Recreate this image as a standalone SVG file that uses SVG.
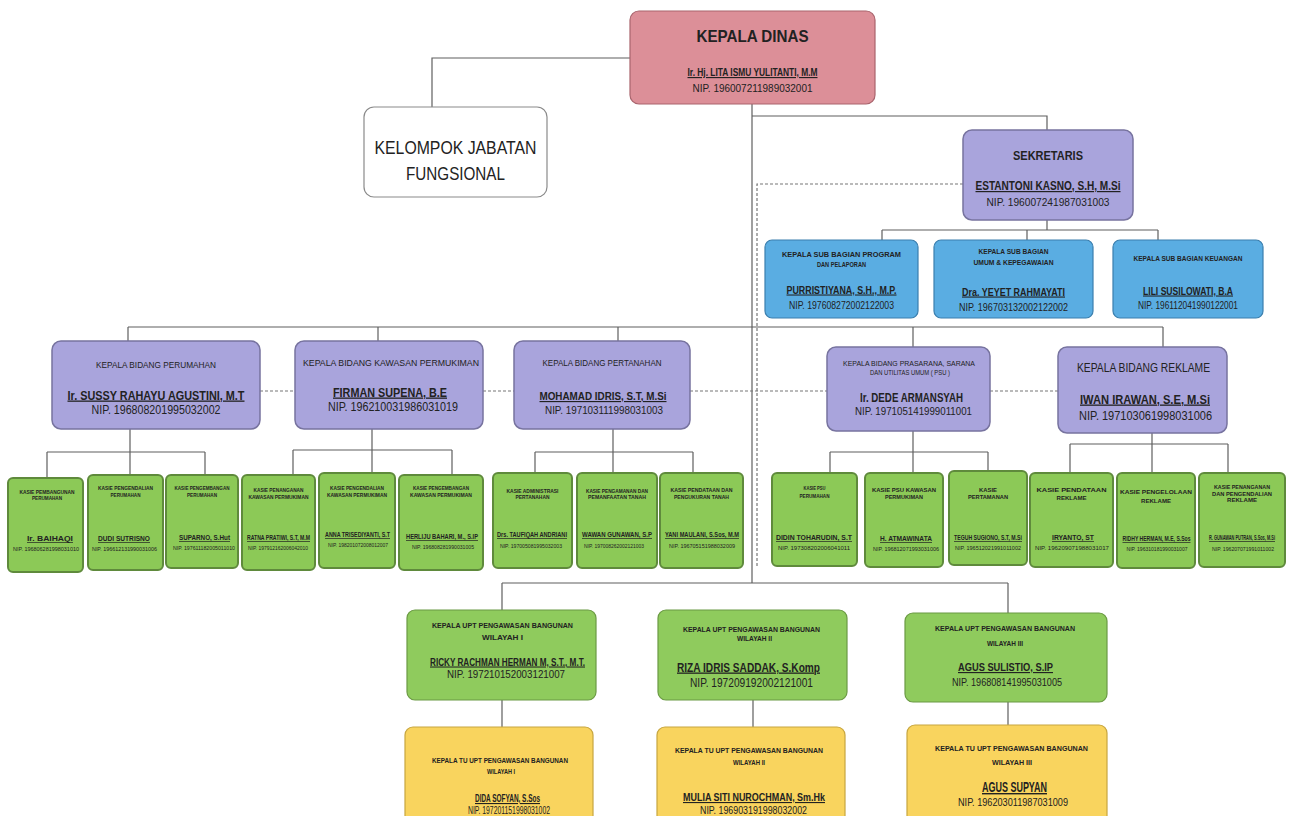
<svg xmlns="http://www.w3.org/2000/svg" width="1291" height="816" viewBox="0 0 1291 816">
<style>
text{font-family:"Liberation Sans Narrow","Liberation Sans",Arial,sans-serif;fill:#222;text-anchor:middle}
.b{font-weight:bold}
.u{font-weight:bold;text-decoration:underline}
.ln{fill:none;stroke:#5f5f5f;stroke-width:1.2}
.dash{fill:none;stroke:#777;stroke-width:1.2;stroke-dasharray:3 2}
.kd{fill:#dc8f98;stroke:#a9646d;stroke-width:1.2}
.wh{fill:#fff;stroke:#8a8a8a;stroke-width:1.2}
.pu{fill:#a9a4dc;stroke:#77739f;stroke-width:1.5}
.bl{fill:#5aade2;stroke:#3b7fae;stroke-width:1.2}
.gr{fill:#8fcb5d;stroke:#6b9a44;stroke-width:1.2}
.gs{fill:#8cc957;stroke:#5f8a3c;stroke-width:2}
.ye{fill:#f9d45e;stroke:#c7a640;stroke-width:1.2}
.s5{font-size:5.5px;font-weight:bold}
.s8{font-size:7px;font-weight:bold;text-decoration:underline}
.n5{font-size:5px}
</style>
<defs></defs>
<g id="connectors">
<path class="ln" d="M630 58H432V107"/>
<path class="ln" d="M752 104V583"/>
<path class="ln" d="M752 116H1047V130"/>
<path class="ln" d="M1047 220V230M882 230H1158M882 230V240M1027 230V240M1158 230V240"/>
<path class="ln" d="M128 327H1163M128 327V341M378 327V341M618 327V341M913 327V347M1163 327V347"/>
<path class="ln" d="M130 429V452M47 452H205M47 452V478M130 452V475M205 452V475"/>
<path class="ln" d="M372 429V450M293 450H452M293 450V475M372 450V473M452 450V475"/>
<path class="ln" d="M613 429V452M535 452H693M535 452V473M613 452V473M693 452V473"/>
<path class="ln" d="M913 431V452M830 452H988M830 452V473M913 452V473M988 452V471"/>
<path class="ln" d="M1152 433V444M1070 444H1228M1070 444V473M1152 444V473M1228 444V473"/>
<path class="ln" d="M502 583H1008M502 583V610M1008 583V613"/>
<path class="ln" d="M502 700V727M753 700V727M1008 702V725"/>
<path class="dash" d="M963 184H757V567"/>
<path class="dash" d="M260 391H295M483 391H514M690 391H827M990 391H1058"/>
</g>
<g id="kepala-dinas">
<rect class="kd" x="630" y="11" width="245" height="93" rx="9"/>
<text x="752.5" y="42" class="b" font-size="17" textLength="112" lengthAdjust="spacingAndGlyphs">KEPALA DINAS</text>
<text x="752.5" y="76" class="u" font-size="11.5" textLength="130" lengthAdjust="spacingAndGlyphs">Ir. Hj. LITA ISMU YULITANTI, M.M</text>
<text x="752.5" y="92" font-size="11" textLength="120" lengthAdjust="spacingAndGlyphs">NIP. 196007211989032001</text>
</g>
<g id="kelompok-jabatan-fungsional">
<rect class="wh" x="364" y="107" width="183" height="90" rx="10"/>
<text x="455.5" y="153.5" font-size="18" textLength="162" lengthAdjust="spacingAndGlyphs">KELOMPOK JABATAN</text>
<text x="455.5" y="179.5" font-size="18" textLength="99" lengthAdjust="spacingAndGlyphs">FUNGSIONAL</text>
</g>
<g id="sekretaris">
<rect class="pu" x="963" y="130" width="170" height="90" rx="9"/>
<text x="1048" y="160" class="b" font-size="13" textLength="70" lengthAdjust="spacingAndGlyphs">SEKRETARIS</text>
<text x="1048" y="190" class="u" font-size="12" textLength="145" lengthAdjust="spacingAndGlyphs">ESTANTONI KASNO, S.H, M.Si</text>
<text x="1048" y="206" font-size="11.5" textLength="123" lengthAdjust="spacingAndGlyphs">NIP. 196007241987031003</text>
</g>
<g id="subbag-program">
<rect class="bl" x="765" y="240" width="153" height="78" rx="7"/>
<text x="841.5" y="256.5" class="b" font-size="7" textLength="119" lengthAdjust="spacingAndGlyphs">KEPALA SUB BAGIAN PROGRAM</text>
<text x="841.5" y="266.5" class="b" font-size="7" textLength="49" lengthAdjust="spacingAndGlyphs">DAN PELAPORAN</text>
<text x="841.5" y="293.5" class="u" font-size="10.5" textLength="110" lengthAdjust="spacingAndGlyphs">PURRISTIYANA, S.H., M.P.</text>
<text x="841.5" y="308.5" font-size="10" textLength="105" lengthAdjust="spacingAndGlyphs">NIP. 197608272002122003</text>
</g>
<g id="subbag-umum">
<rect class="bl" x="934" y="240" width="159" height="78" rx="7"/>
<text x="1013.5" y="253.5" class="b" font-size="6.5" textLength="70" lengthAdjust="spacingAndGlyphs">KEPALA SUB BAGIAN</text>
<text x="1013.5" y="264.5" class="b" font-size="6.5" textLength="80" lengthAdjust="spacingAndGlyphs">UMUM &amp; KEPEGAWAIAN</text>
<text x="1013.5" y="295.5" class="u" font-size="11" textLength="103" lengthAdjust="spacingAndGlyphs">Dra. YEYET RAHMAYATI</text>
<text x="1013.5" y="310.5" font-size="10.5" textLength="109" lengthAdjust="spacingAndGlyphs">NIP. 196703132002122002</text>
</g>
<g id="subbag-keuangan">
<rect class="bl" x="1113" y="240" width="150" height="78" rx="7"/>
<text x="1188" y="260.5" class="b" font-size="6.5" textLength="109" lengthAdjust="spacingAndGlyphs">KEPALA SUB BAGIAN KEUANGAN</text>
<text x="1188" y="294.5" class="u" font-size="10.5" textLength="90" lengthAdjust="spacingAndGlyphs">LILI SUSILOWATI, B.A</text>
<text x="1188" y="308.5" font-size="10" textLength="100" lengthAdjust="spacingAndGlyphs">NIP. 196112041990122001</text>
</g>
<g id="bidang-perumahan">
<rect class="pu" x="52" y="341" width="208" height="88" rx="9"/>
<text x="156" y="368" font-size="8.5" textLength="120" lengthAdjust="spacingAndGlyphs">KEPALA BIDANG PERUMAHAN</text>
<text x="156" y="399.5" class="u" font-size="13" textLength="177" lengthAdjust="spacingAndGlyphs">Ir. SUSSY RAHAYU AGUSTINI, M.T</text>
<text x="156" y="414" font-size="12" textLength="129" lengthAdjust="spacingAndGlyphs">NIP. 196808201995032002</text>
</g>
<g id="bidang-kawasan">
<rect class="pu" x="295" y="341" width="188" height="88" rx="9"/>
<text x="391" y="366" font-size="8.5" textLength="176" lengthAdjust="spacingAndGlyphs">KEPALA BIDANG KAWASAN PERMUKIMAN</text>
<text x="390" y="396.5" class="u" font-size="13" textLength="114" lengthAdjust="spacingAndGlyphs">FIRMAN SUPENA, B.E</text>
<text x="393" y="411" font-size="12" textLength="130" lengthAdjust="spacingAndGlyphs">NIP. 196210031986031019</text>
</g>
<g id="bidang-pertanahan">
<rect class="pu" x="514" y="341" width="176" height="88" rx="9"/>
<text x="602" y="366" font-size="8.5" textLength="119" lengthAdjust="spacingAndGlyphs">KEPALA BIDANG PERTANAHAN</text>
<text x="603" y="400" class="u" font-size="11.5" textLength="127" lengthAdjust="spacingAndGlyphs">MOHAMAD IDRIS, S.T, M.Si</text>
<text x="604" y="413.5" font-size="10.5" textLength="118" lengthAdjust="spacingAndGlyphs">NIP. 197103111998031003</text>
</g>
<g id="bidang-psu">
<rect class="pu" x="827" y="347" width="163" height="84" rx="9"/>
<text x="909" y="365.5" font-size="7" textLength="132" lengthAdjust="spacingAndGlyphs">KEPALA BIDANG PRASARANA, SARANA</text>
<text x="910" y="374.5" font-size="7" textLength="80" lengthAdjust="spacingAndGlyphs">DAN UTILITAS UMUM ( PSU )</text>
<text x="911.5" y="402" class="b" font-size="12" textLength="103" lengthAdjust="spacingAndGlyphs">Ir. DEDE ARMANSYAH</text>
<text x="913.5" y="415" font-size="10.5" textLength="117" lengthAdjust="spacingAndGlyphs">NIP. 197105141999011001</text>
</g>
<g id="bidang-reklame">
<rect class="pu" x="1058" y="347" width="169" height="86" rx="9"/>
<text x="1143.5" y="372" font-size="12" textLength="133" lengthAdjust="spacingAndGlyphs">KEPALA BIDANG REKLAME</text>
<text x="1145" y="403.5" class="u" font-size="13" textLength="130" lengthAdjust="spacingAndGlyphs">IWAN IRAWAN, S.E, M.Si</text>
<text x="1145.5" y="420" font-size="12" textLength="133" lengthAdjust="spacingAndGlyphs">NIP. 197103061998031006</text>
</g>
<g id="seksi-1">
<rect class="gs" x="8" y="478" width="75" height="94" rx="5"/>
<text x="47" y="494" class="s5" textLength="55" lengthAdjust="spacingAndGlyphs">KASIE PEMBANGUNAN</text>
<text x="47" y="500" class="s5" textLength="30" lengthAdjust="spacingAndGlyphs">PERUMAHAN</text>
<text x="50" y="541" class="s8" textLength="46" lengthAdjust="spacingAndGlyphs">Ir. BAIHAQI</text>
<text x="46" y="551" class="n5" textLength="66" lengthAdjust="spacingAndGlyphs">NIP. 196806281998031010</text>
</g>
<g id="seksi-2">
<rect class="gs" x="88" y="475" width="75" height="95" rx="5"/>
<text x="125.5" y="490" class="s5" textLength="55" lengthAdjust="spacingAndGlyphs">KASIE PENGENDALIAN</text>
<text x="125.5" y="497" class="s5" textLength="30" lengthAdjust="spacingAndGlyphs">PERUMAHAN</text>
<text x="124" y="541" class="s8" textLength="52" lengthAdjust="spacingAndGlyphs">DUDI SUTRISNO</text>
<text x="124.5" y="551" class="n5" textLength="65" lengthAdjust="spacingAndGlyphs">NIP. 196612131990031006</text>
</g>
<g id="seksi-3">
<rect class="gs" x="166" y="475" width="72" height="93" rx="5"/>
<text x="202" y="490" class="s5" textLength="55" lengthAdjust="spacingAndGlyphs">KASIE PENGEMBANGAN</text>
<text x="202" y="497" class="s5" textLength="30" lengthAdjust="spacingAndGlyphs">PERUMAHAN</text>
<text x="204.5" y="540" class="s8" textLength="51" lengthAdjust="spacingAndGlyphs">SUPARNO, S.Hut</text>
<text x="204" y="550" class="n5" textLength="62" lengthAdjust="spacingAndGlyphs">NIP. 197611182005011010</text>
</g>
<g id="seksi-4">
<rect class="gs" x="242" y="475" width="73" height="95" rx="5"/>
<text x="278.5" y="492" class="s5" textLength="50" lengthAdjust="spacingAndGlyphs">KASIE PENANGANAN</text>
<text x="278.5" y="499" class="s5" textLength="60" lengthAdjust="spacingAndGlyphs">KAWASAN PERMUKIMAN</text>
<text x="278.5" y="540" class="s8" textLength="63" lengthAdjust="spacingAndGlyphs">RATNA PRATIWI, S.T, M.M</text>
<text x="278" y="550" class="n5" textLength="60" lengthAdjust="spacingAndGlyphs">NIP. 197912162006042010</text>
</g>
<g id="seksi-5">
<rect class="gs" x="319" y="473" width="76" height="95" rx="5"/>
<text x="357" y="490" class="s5" textLength="54" lengthAdjust="spacingAndGlyphs">KASIE PENGENDALIAN</text>
<text x="357" y="497" class="s5" textLength="60" lengthAdjust="spacingAndGlyphs">KAWASAN PERMUKIMAN</text>
<text x="357.5" y="537" class="s8" textLength="65" lengthAdjust="spacingAndGlyphs">ANNA TRISEDIYANTI, S.T</text>
<text x="358" y="547" class="n5" textLength="60" lengthAdjust="spacingAndGlyphs">NIP. 198201072008012007</text>
</g>
<g id="seksi-6">
<rect class="gs" x="399" y="475" width="84" height="95" rx="5"/>
<text x="441" y="490" class="s5" textLength="56" lengthAdjust="spacingAndGlyphs">KASIE PENGEMBANGAN</text>
<text x="441" y="497" class="s5" textLength="62" lengthAdjust="spacingAndGlyphs">KAWASAN PERMUKIMAN</text>
<text x="442" y="539" class="s8" textLength="72" lengthAdjust="spacingAndGlyphs">HERLIJU BAHARI, M., S.IP</text>
<text x="443" y="549" class="n5" textLength="62" lengthAdjust="spacingAndGlyphs">NIP. 196808281990031005</text>
</g>
<g id="seksi-7">
<rect class="gs" x="493" y="473" width="79" height="95" rx="5"/>
<text x="532.5" y="493" class="s5" textLength="52" lengthAdjust="spacingAndGlyphs">KASIE ADMINISTRASI</text>
<text x="532.5" y="499" class="s5" textLength="34" lengthAdjust="spacingAndGlyphs">PERTANAHAN</text>
<text x="532" y="537" class="s8" textLength="70" lengthAdjust="spacingAndGlyphs">Drs. TAUFIQAH ANDRIANI</text>
<text x="531" y="548" class="n5" textLength="62" lengthAdjust="spacingAndGlyphs">NIP. 197005081995032003</text>
</g>
<g id="seksi-8">
<rect class="gs" x="577" y="473" width="80" height="95" rx="5"/>
<text x="617" y="493" class="s5" textLength="62" lengthAdjust="spacingAndGlyphs">KASIE PENGAMANAN DAN</text>
<text x="617" y="499" class="s5" textLength="58" lengthAdjust="spacingAndGlyphs">PEMANFAATAN TANAH</text>
<text x="617" y="537" class="s8" textLength="70" lengthAdjust="spacingAndGlyphs">WAWAN GUNAWAN, S.P</text>
<text x="614" y="548" class="n5" textLength="60" lengthAdjust="spacingAndGlyphs">NIP. 197008262002121003</text>
</g>
<g id="seksi-9">
<rect class="gs" x="660" y="473" width="83" height="95" rx="5"/>
<text x="701.5" y="492" class="s5" textLength="62" lengthAdjust="spacingAndGlyphs">KASIE PENDATAAN DAN</text>
<text x="701.5" y="499" class="s5" textLength="55" lengthAdjust="spacingAndGlyphs">PENGUKURAN TANAH</text>
<text x="702" y="537" class="s8" textLength="74" lengthAdjust="spacingAndGlyphs">YANI MAULANI, S.Sos, M.M</text>
<text x="702" y="548" class="n5" textLength="66" lengthAdjust="spacingAndGlyphs">NIP. 196705151988032009</text>
</g>
<g id="seksi-10">
<rect class="gs" x="772" y="473" width="85" height="93" rx="5"/>
<text x="814.5" y="490" class="s5" textLength="22" lengthAdjust="spacingAndGlyphs">KASIE PSU</text>
<text x="814.5" y="498" class="s5" textLength="30" lengthAdjust="spacingAndGlyphs">PERUMAHAN</text>
<text x="814" y="540" class="s8" textLength="76" lengthAdjust="spacingAndGlyphs">DIDIN TOHARUDIN, S.T</text>
<text x="814" y="550" class="n5" textLength="72" lengthAdjust="spacingAndGlyphs">NIP. 197308202006041011</text>
</g>
<g id="seksi-11">
<rect class="gs" x="865" y="473" width="78" height="94" rx="5"/>
<text x="904" y="492" class="s5" textLength="64" lengthAdjust="spacingAndGlyphs">KASIE PSU KAWASAN</text>
<text x="904" y="499" class="s5" textLength="38" lengthAdjust="spacingAndGlyphs">PERMUKIMAN</text>
<text x="906" y="541" class="s8" textLength="52" lengthAdjust="spacingAndGlyphs">H. ATMAWINATA</text>
<text x="906" y="551" class="n5" textLength="66" lengthAdjust="spacingAndGlyphs">NIP. 196812071993031006</text>
</g>
<g id="seksi-12">
<rect class="gs" x="949" y="471" width="78" height="94" rx="5"/>
<text x="988" y="492" class="s5" textLength="18" lengthAdjust="spacingAndGlyphs">KASIE</text>
<text x="988" y="499" class="s5" textLength="40" lengthAdjust="spacingAndGlyphs">PERTAMANAN</text>
<text x="988" y="540" class="s8" textLength="68" lengthAdjust="spacingAndGlyphs">TEGUH SUGIONO, S.T, M.Si</text>
<text x="988" y="550" class="n5" textLength="66" lengthAdjust="spacingAndGlyphs">NIP. 196512021991011002</text>
</g>
<g id="seksi-13">
<rect class="gs" x="1030" y="473" width="83" height="94" rx="5"/>
<text x="1071.5" y="492" class="s5" font-size="7" textLength="70" lengthAdjust="spacingAndGlyphs">KASIE PENDATAAN</text>
<text x="1071.5" y="500" class="s5" font-size="7" textLength="30" lengthAdjust="spacingAndGlyphs">REKLAME</text>
<text x="1073" y="540" class="s8" textLength="42" lengthAdjust="spacingAndGlyphs">IRYANTO, ST</text>
<text x="1072" y="550" class="n5" textLength="74" lengthAdjust="spacingAndGlyphs">NIP. 196209071988031017</text>
</g>
<g id="seksi-14">
<rect class="gs" x="1117" y="473" width="78" height="95" rx="5"/>
<text x="1156" y="494" class="s5" font-size="7" textLength="72" lengthAdjust="spacingAndGlyphs">KASIE PENGELOLAAN</text>
<text x="1156" y="503" class="s5" font-size="7" textLength="30" lengthAdjust="spacingAndGlyphs">REKLAME</text>
<text x="1156.5" y="541" class="s8" font-size="6.5" textLength="68" lengthAdjust="spacingAndGlyphs">RIDHY HERMAN, M.E, S.Sos</text>
<text x="1157" y="551" class="n5" textLength="61" lengthAdjust="spacingAndGlyphs">NIP. 196310181990031007</text>
</g>
<g id="seksi-15">
<rect class="gs" x="1199" y="473" width="86" height="94" rx="5"/>
<text x="1242" y="489" class="s5" textLength="56" lengthAdjust="spacingAndGlyphs">KASIE PENANGANAN</text>
<text x="1242" y="495.5" class="s5" textLength="60" lengthAdjust="spacingAndGlyphs">DAN PENGENDALIAN</text>
<text x="1242" y="502" class="s5" textLength="30" lengthAdjust="spacingAndGlyphs">REKLAME</text>
<text x="1242" y="540" class="s8" font-size="4.4" textLength="66" lengthAdjust="spacingAndGlyphs">R. GUNAWAN PUTRAN, S.Sos, M.Si</text>
<text x="1243" y="551" class="n5" textLength="62" lengthAdjust="spacingAndGlyphs">NIP. 196207071991011002</text>
</g>
<g id="upt-1">
<rect class="gr" x="407" y="610" width="189" height="90" rx="8"/>
<text x="502.5" y="627.5" class="b" font-size="7" textLength="141" lengthAdjust="spacingAndGlyphs">KEPALA UPT PENGAWASAN BANGUNAN</text>
<text x="502.5" y="639.5" class="b" font-size="7" textLength="41" lengthAdjust="spacingAndGlyphs">WILAYAH I</text>
<text x="507.5" y="665.5" class="u" font-size="10.5" textLength="155" lengthAdjust="spacingAndGlyphs">RICKY RACHMAN HERMAN M, S.T., M.T.</text>
<text x="506" y="677.5" font-size="10.5" textLength="118" lengthAdjust="spacingAndGlyphs">NIP. 197210152003121007</text>
</g>
<g id="upt-2">
<rect class="gr" x="658" y="610" width="189" height="90" rx="8"/>
<text x="751.5" y="632" class="b" font-size="6.5" textLength="137" lengthAdjust="spacingAndGlyphs">KEPALA UPT PENGAWASAN BANGUNAN</text>
<text x="754.5" y="640.5" class="b" font-size="6.5" textLength="35" lengthAdjust="spacingAndGlyphs">WILAYAH II</text>
<text x="748.5" y="671.5" class="u" font-size="13" textLength="143" lengthAdjust="spacingAndGlyphs">RIZA IDRIS SADDAK, S.Komp</text>
<text x="751.5" y="687" font-size="12" textLength="123" lengthAdjust="spacingAndGlyphs">NIP. 197209192002121001</text>
</g>
<g id="upt-3">
<rect class="gr" x="905" y="613" width="202" height="89" rx="8"/>
<text x="1005" y="630.5" class="b" font-size="7" textLength="140" lengthAdjust="spacingAndGlyphs">KEPALA UPT PENGAWASAN BANGUNAN</text>
<text x="1005" y="645.5" class="b" font-size="7" textLength="36" lengthAdjust="spacingAndGlyphs">WILAYAH III</text>
<text x="1005.5" y="671" class="u" font-size="11.5" textLength="95" lengthAdjust="spacingAndGlyphs">AGUS SULISTIO, S.IP</text>
<text x="1007" y="686" font-size="11" textLength="110" lengthAdjust="spacingAndGlyphs">NIP. 196808141995031005</text>
</g>
<g id="tu-1">
<rect class="ye" x="405" y="727" width="188" height="100" rx="8"/>
<text x="500" y="762.5" class="b" font-size="7" textLength="136" lengthAdjust="spacingAndGlyphs">KEPALA TU UPT PENGAWASAN BANGUNAN</text>
<text x="501" y="773.5" class="b" font-size="7" textLength="28" lengthAdjust="spacingAndGlyphs">WILAYAH I</text>
<text x="507.5" y="802" class="u" font-size="11" textLength="65" lengthAdjust="spacingAndGlyphs">DIDA SOFYAN, S.Sos</text>
<text x="509" y="814" font-size="11" textLength="82" lengthAdjust="spacingAndGlyphs">NIP. 197201151998031002</text>
</g>
<g id="tu-2">
<rect class="ye" x="657" y="727" width="188" height="100" rx="8"/>
<text x="749" y="752.5" class="b" font-size="7" textLength="148" lengthAdjust="spacingAndGlyphs">KEPALA TU UPT PENGAWASAN BANGUNAN</text>
<text x="749" y="764.5" class="b" font-size="7" textLength="32" lengthAdjust="spacingAndGlyphs">WILAYAH II</text>
<text x="754" y="801" class="u" font-size="11" textLength="142" lengthAdjust="spacingAndGlyphs">MULIA SITI NUROCHMAN, Sm.Hk</text>
<text x="753.5" y="814" font-size="10.5" textLength="107" lengthAdjust="spacingAndGlyphs">NIP. 196903191998032002</text>
</g>
<g id="tu-3">
<rect class="ye" x="907" y="725" width="200" height="102" rx="8"/>
<text x="1011.5" y="750.5" class="b" font-size="7" textLength="153" lengthAdjust="spacingAndGlyphs">KEPALA  TU UPT PENGAWASAN BANGUNAN</text>
<text x="1012" y="764.5" class="b" font-size="7" textLength="40" lengthAdjust="spacingAndGlyphs">WILAYAH III</text>
<text x="1014.5" y="792" class="u" font-size="14" textLength="65" lengthAdjust="spacingAndGlyphs">AGUS SUPYAN</text>
<text x="1013" y="806" font-size="11" textLength="110" lengthAdjust="spacingAndGlyphs">NIP. 196203011987031009</text>
</g>
</svg>
